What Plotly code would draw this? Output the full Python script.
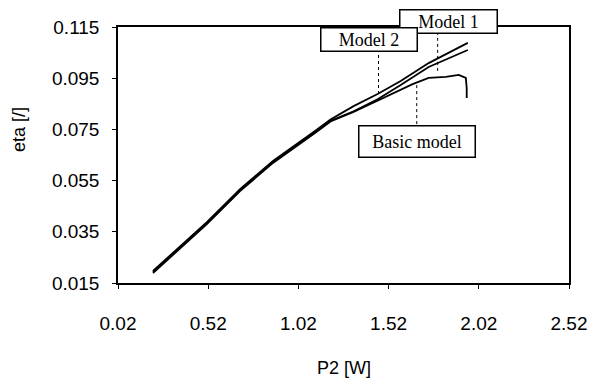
import plotly.graph_objects as go

# Data
p2_model1 = [0.214, 0.514, 0.698, 0.881, 1.114, 1.198, 1.326, 1.459, 1.587, 1.742, 1.959]
eta_model1 = [0.0197, 0.0389, 0.0518, 0.0628, 0.0745, 0.0789, 0.0841, 0.0888, 0.0939, 0.1009, 0.1088]

p2_model2 = [0.214, 0.514, 0.698, 0.881, 1.114, 1.198, 1.326, 1.459, 1.587, 1.742, 1.959]
eta_model2 = [0.0193, 0.0385, 0.0514, 0.0624, 0.0741, 0.0784, 0.0821, 0.0868, 0.0923, 0.0994, 0.1060]

p2_basic = [0.214, 0.514, 0.698, 0.881, 1.114, 1.198, 1.326, 1.459, 1.559, 1.653, 1.742, 1.837, 1.909, 1.948, 1.953, 1.953]
eta_basic = [0.0189, 0.0381, 0.0510, 0.0620, 0.0737, 0.0781, 0.0818, 0.0862, 0.0896, 0.0927, 0.0951, 0.0955, 0.0963, 0.0951, 0.0912, 0.0873]

x_ticks = [0.02, 0.52, 1.02, 1.52, 2.02, 2.52]
x_tick_labels = ["0.02", "0.52", "1.02", "1.52", "2.02", "2.52"]
y_ticks = [0.015, 0.035, 0.055, 0.075, 0.095, 0.115]
y_tick_labels = ["0.015", "0.035", "0.055", "0.075", "0.095", "0.115"]

# Label boxes: (text, x, y, yshift, box width, box height) and leader lines: (x, y0, y1)
labels = [("Model 1", 1.850, 0.115, 6, 92, 18),
          ("Model 2", 1.414, 0.1103, 0, 91, 18),
          ("Basic model", 1.676, 0.0701, 0, 111, 26)]
leaders = [(1.792, 0.1131, 0.0974), (1.464, 0.1064, 0.0886), (1.676, 0.0923, 0.0759)]

fig = go.Figure()
for xs, ys, name in [(p2_model1, eta_model1, "Model 1"),
                     (p2_model2, eta_model2, "Model 2"),
                     (p2_basic, eta_basic, "Basic model")]:
    fig.add_trace(go.Scatter(x=xs, y=ys, mode="lines", name=name,
                             line=dict(color="black", width=1.8)))

for lx, ly0, ly1 in leaders:
    fig.add_shape(type="line", x0=lx, x1=lx, y0=ly0, y1=ly1, xref="x", yref="y",
                  line=dict(color="black", width=1, dash="dot"))

for text, lx, ly, ys, bw, bh in labels:
    fig.add_annotation(x=lx, y=ly, xref="x", yref="y", yshift=ys, text=text, showarrow=False,
                       width=bw, height=bh, align="center", valign="middle",
                       font=dict(family="Liberation Serif", size=18, color="black"),
                       bgcolor="white", bordercolor="black", borderwidth=1.5, borderpad=2)

# the page body has an 8px margin, so the figure is 8px smaller than the window
fig.update_layout(
    width=595, height=377,
    margin=dict(l=110, r=34, t=19, b=102, autoexpand=False),
    paper_bgcolor="white", plot_bgcolor="white",
    showlegend=False,
    font=dict(family="Liberation Sans", color="black"),
)
fig.update_xaxes(range=[0.02, 2.52], tickvals=x_ticks, ticktext=x_tick_labels,
                 showgrid=False, zeroline=False, showline=True, linecolor="black", linewidth=1.5,
                 mirror=True, ticks="outside", ticklen=4, tickcolor="black",
                 tickfont=dict(size=19, family="Liberation Sans"), ticklabelstandoff=18)
fig.update_yaxes(range=[0.015, 0.115], tickvals=y_ticks, ticktext=y_tick_labels,
                 showgrid=False, zeroline=False, showline=True, linecolor="black", linewidth=1.5,
                 mirror=True, ticks="outside", ticklen=4, tickcolor="black",
                 tickfont=dict(size=19, family="Liberation Sans"), ticklabelstandoff=9)

fig.add_annotation(text="P2 [W]", xref="paper", yref="paper", x=0.5, y=0, yshift=-85,
                   showarrow=False, xanchor="center", yanchor="middle",
                   font=dict(size=18, family="Liberation Sans"))
fig.add_annotation(text="eta [/]", xref="paper", yref="paper", x=0, y=0.5, xshift=-99, yshift=25,
                   showarrow=False, textangle=-90, xanchor="center", yanchor="middle",
                   font=dict(size=18, family="Liberation Sans"))

fig.write_html("out.html")
